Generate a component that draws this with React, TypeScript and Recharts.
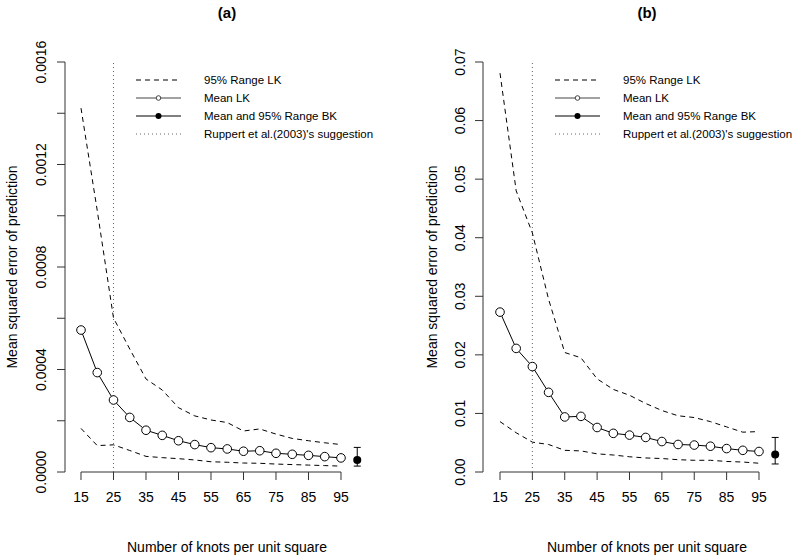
import React from 'react';
import { ComposedChart, Line, Scatter, XAxis, YAxis, ReferenceLine, ErrorBar } from 'recharts';

const knots = [15, 20, 25, 30, 35, 40, 45, 50, 55, 60, 65, 70, 75, 80, 85, 90, 95];
const xTicks = [15, 25, 35, 45, 55, 65, 75, 85, 95];

// Panel (a)
const meanLKa = [0.000554, 0.000388, 0.000281, 0.000213, 0.000163, 0.000143, 0.000122, 0.000107, 0.000095, 0.00009, 0.000081, 0.000083, 0.000073, 0.000069, 0.000065, 0.00006, 0.000055];
const upperLKa = [0.00142, 0.00102, 0.000601, 0.00048, 0.000363, 0.00032, 0.000251, 0.000219, 0.000203, 0.000193, 0.00016, 0.000168, 0.000148, 0.000131, 0.000122, 0.000114, 0.000107];
const lowerLKa = [0.00017, 0.000103, 0.000106, 0.000084, 0.000061, 0.000056, 0.000052, 0.000047, 0.00004, 0.000038, 0.000035, 0.000034, 0.000031, 0.000029, 0.000027, 0.000025, 0.000023];
const bkXa = [100];
const bkMeanA = [0.000047];
const bkRangeA = [0.000023, 0.000096];
const yTicksA = [0, 0.0002, 0.0004, 0.0006, 0.0008, 0.001, 0.0012, 0.0014, 0.0016];

// Panel (b)
const meanLKb = [0.0273, 0.0211, 0.018, 0.0136, 0.0094, 0.0095, 0.0076, 0.0066, 0.0063, 0.0059, 0.0052, 0.0047, 0.0046, 0.0044, 0.004, 0.0037, 0.0035];
const upperLKb = [0.0681, 0.048, 0.0408, 0.0295, 0.0204, 0.0195, 0.0159, 0.0141, 0.0131, 0.0117, 0.0105, 0.0096, 0.0093, 0.0086, 0.0077, 0.0068, 0.0069];
const lowerLKb = [0.0086, 0.0067, 0.0051, 0.0047, 0.0037, 0.0036, 0.0031, 0.0029, 0.0026, 0.0024, 0.0023, 0.0021, 0.002, 0.002, 0.0018, 0.0017, 0.0015];
const bkXb = [100];
const bkMeanB = [0.003];
const bkRangeB = [0.00137, 0.0059];
const yTicksB = [0, 0.01, 0.02, 0.03, 0.04, 0.05, 0.06, 0.07];

const legendLabels = ['95% Range LK', 'Mean LK', 'Mean and 95% Range BK', "Ruppert et al.(2003)'s suggestion"];

const FONT = '"Liberation Sans", Arial, Helvetica, sans-serif';

type PanelProps = {
  mean: number[];
  upper: number[];
  lower: number[];
  bkX: number[];
  bkMean: number[];
  bkRange: number[];
  yTicks: number[];
  yMax: number;
  digits: number;
  labelEvery: number;
  xDomain: [number, number];
  marginLeft: number;
  marginRight: number;
  tickMargin: number;
};

function Panel(p: PanelProps) {
  const data = knots.map((k, i) => ({ k, mean: p.mean[i], upper: p.upper[i], lower: p.lower[i] }));
  const bkData = p.bkX.map((k, i) => ({
    k,
    bk: p.bkMean[i],
    err: [p.bkMean[i] - p.bkRange[0], p.bkRange[1] - p.bkMean[i]],
  }));
  const step = p.yTicks[1] - p.yTicks[0];
  const renderYTick = (props: any) => {
    const { x, y, payload } = props;
    const idx = Math.round(payload.value / step);
    if (idx % p.labelEvery !== 0) return <g />;
    return (
      <text
        x={x}
        y={y}
        transform={`rotate(-90, ${x}, ${y})`}
        textAnchor="middle"
        fontSize={14}
        fill="#000"
        fontFamily={FONT}
      >
        {payload.value.toFixed(p.digits)}
      </text>
    );
  };
  return (
    <ComposedChart
      width={400}
      height={559}
      data={data}
      margin={{ top: 62, right: p.marginRight, bottom: 57, left: p.marginLeft }}
    >
      <XAxis
        type="number"
        dataKey="k"
        domain={p.xDomain}
        ticks={xTicks}
        interval={0}
        allowDataOverflow
        axisLine={false}
        tickLine={{ stroke: '#333' }}
        tickSize={8}
        tickMargin={12}
        height={30}
        tick={{ fill: '#000', fontSize: 14, fontFamily: FONT }}
      />
      <YAxis
        type="number"
        domain={[0, p.yMax]}
        ticks={p.yTicks}
        interval={0}
        allowDataOverflow
        width={60}
        axisLine={{ stroke: '#333' }}
        tickLine={{ stroke: '#333' }}
        tickSize={8}
        tickMargin={p.tickMargin}
        tick={renderYTick}
      />
      <ReferenceLine
        segment={[{ x: 15, y: 0 }, { x: 95, y: 0 }]}
        stroke="#333"
        strokeWidth={1}
        ifOverflow="visible"
      />
      <ReferenceLine x={25} stroke="#666" strokeDasharray="1 3" strokeWidth={1} />
      <Line
        type="linear"
        dataKey="upper"
        stroke="#000"
        strokeWidth={1}
        strokeDasharray="5 4"
        dot={false}
        isAnimationActive={false}
      />
      <Line
        type="linear"
        dataKey="lower"
        stroke="#000"
        strokeWidth={1}
        strokeDasharray="5 4"
        dot={false}
        isAnimationActive={false}
      />
      <Line
        type="linear"
        dataKey="mean"
        stroke="#000"
        strokeWidth={1}
        dot={{ r: 4.3, fill: '#fff', stroke: '#000', strokeWidth: 1 }}
        isAnimationActive={false}
      />
      <Scatter
        data={bkData}
        dataKey="bk"
        fill="#000"
        isAnimationActive={false}
        shape={(s: any) => <circle cx={s.cx} cy={s.cy} r={4} fill="#000" />}
      >
        <ErrorBar dataKey="err" direction="y" width={3.5} stroke="#000" strokeWidth={1} isAnimationActive={false} />
      </Scatter>
    </ComposedChart>
  );
}

function LegendBox({ x0, textX }: { x0: number; textX: number }) {
  const rows = [80, 98, 116, 134];
  const x1 = x0 + 45;
  const cx = (x0 + x1) / 2;
  return (
    <g fontFamily={FONT} fontSize={11.5} fill="#000">
      <line x1={x0} y1={rows[0]} x2={x1} y2={rows[0]} stroke="#000" strokeDasharray="5 4" />
      <line x1={x0} y1={rows[1]} x2={x1} y2={rows[1]} stroke="#444" />
      <circle cx={cx} cy={rows[1]} r={2.3} fill="#fff" stroke="#444" />
      <line x1={x0} y1={rows[2]} x2={x1} y2={rows[2]} stroke="#000" />
      <circle cx={cx} cy={rows[2]} r={3} fill="#000" />
      <line x1={x0} y1={rows[3]} x2={x1} y2={rows[3]} stroke="#666" strokeDasharray="1 3" />
      {legendLabels.map((t, i) => (
        <text key={t} x={textX} y={rows[i] + 4}>
          {t}
        </text>
      ))}
    </g>
  );
}

export default function App() {
  return (
    <div
      style={{
        position: 'absolute',
        left: 0,
        top: 0,
        width: 800,
        height: 559,
        background: '#fff',
        overflow: 'hidden',
        fontFamily: FONT,
      }}
    >
      <div style={{ position: 'absolute', left: 0, top: 0 }}>
        <Panel
          mean={meanLKa}
          upper={upperLKa}
          lower={lowerLKa}
          bkX={bkXa}
          bkMean={bkMeanA}
          bkRange={bkRangeA}
          yTicks={yTicksA}
          yMax={0.0016}
          digits={4}
          labelEvery={2}
          xDomain={[10.077, 109.77]}
          marginLeft={5}
          marginRight={11}
          tickMargin={11}
        />
      </div>
      <div style={{ position: 'absolute', left: 400, top: 0 }}>
        <Panel
          mean={meanLKb}
          upper={upperLKb}
          lower={lowerLKb}
          bkX={bkXb}
          bkMean={bkMeanB}
          bkRange={bkRangeB}
          yTicks={yTicksB}
          yMax={0.07}
          digits={2}
          labelEvery={1}
          xDomain={[9.749, 106.12]}
          marginLeft={23}
          marginRight={5}
          tickMargin={10}
        />
      </div>
      <svg
        width={800}
        height={559}
        style={{ position: 'absolute', left: 0, top: 0, pointerEvents: 'none' }}
      >
        <g fontFamily={FONT} fill="#000">
          <text x={227} y={18} textAnchor="middle" fontSize={15} fontWeight="bold">(a)</text>
          <text x={647} y={18} textAnchor="middle" fontSize={15} fontWeight="bold">(b)</text>
          <text x={227} y={552} textAnchor="middle" fontSize={14}>Number of knots per unit square</text>
          <text x={647} y={552} textAnchor="middle" fontSize={14}>Number of knots per unit square</text>
          <text x={17} y={267} textAnchor="middle" fontSize={14} transform="rotate(-90, 17, 267)">
            Mean squared error of prediction
          </text>
          <text x={437} y={267} textAnchor="middle" fontSize={14} transform="rotate(-90, 437, 267)">
            Mean squared error of prediction
          </text>
        </g>
        <LegendBox x0={136} textX={204} />
        <LegendBox x0={555} textX={623} />
      </svg>
    </div>
  );
}
